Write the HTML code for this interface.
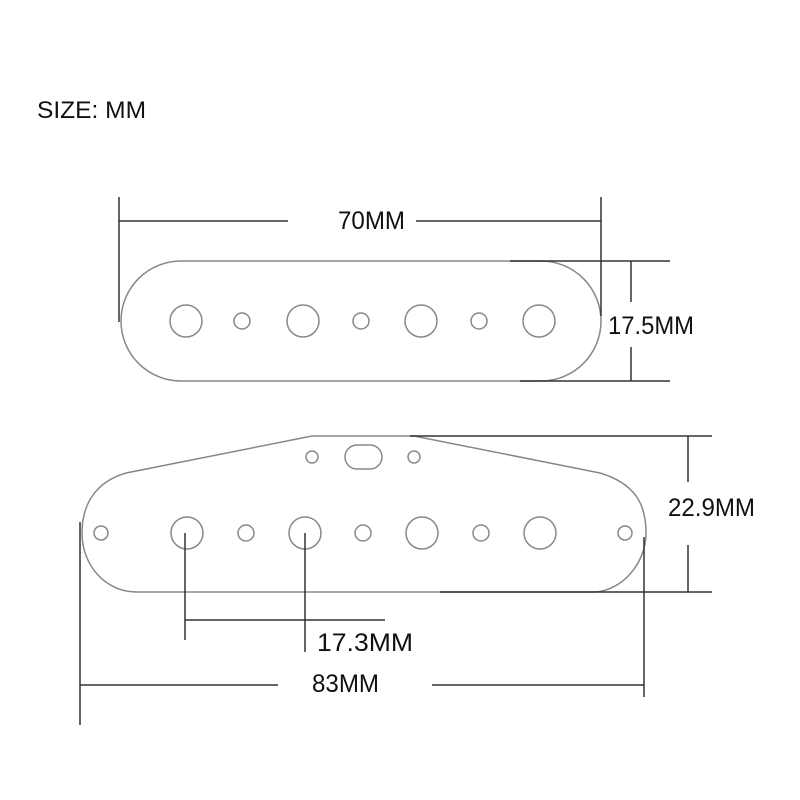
<!DOCTYPE html>
<html><head><style>
html,body{margin:0;padding:0;background:#fff;}
svg{display:block;}
text{font-family:"Liberation Sans",sans-serif;fill:#111;}
</style></head><body>
<svg width="800" height="800" viewBox="0 0 800 800" xmlns="http://www.w3.org/2000/svg">
<rect width="800" height="800" fill="#fff"/>
<text x="37" y="118" font-size="24" textLength="109" lengthAdjust="spacingAndGlyphs">SIZE: MM</text>

<!-- top pickup -->
<g fill="none" stroke="#888" stroke-width="1.5">
<rect x="121" y="261" width="480" height="120" rx="60" ry="60"/>
<circle cx="186" cy="321" r="16"/><circle cx="303" cy="321" r="16"/><circle cx="421" cy="321" r="16"/><circle cx="539" cy="321" r="16"/>
<circle cx="242" cy="321" r="8"/><circle cx="361" cy="321" r="8"/><circle cx="479" cy="321" r="8"/>
</g>
<g stroke="#333" stroke-width="1.5" fill="none">
<line x1="119" y1="197" x2="119" y2="322"/>
<line x1="601" y1="197" x2="601" y2="316"/>
<line x1="119" y1="221" x2="288" y2="221"/>
<line x1="416" y1="221" x2="601" y2="221"/>
<line x1="510" y1="261" x2="670" y2="261"/>
<line x1="520" y1="381" x2="670" y2="381"/>
<line x1="631" y1="261" x2="631" y2="302"/>
<line x1="631" y1="347" x2="631" y2="381"/>
</g>
<text x="338" y="229" font-size="25" textLength="67" lengthAdjust="spacingAndGlyphs">70MM</text>
<text x="608" y="334" font-size="25" textLength="86" lengthAdjust="spacingAndGlyphs">17.5MM</text>

<!-- bottom pickup -->
<g fill="none" stroke="#888" stroke-width="1.5">
<path d="M312,436 L414,436 L600,473 C640,485 646,510 646,533 C646,565 620,592 593,592 L137,592 C105,592 82,565 82,533 C82,505 95,482 126,473 Z"/>
<circle cx="101" cy="533" r="7"/><circle cx="625" cy="533" r="7"/>
<circle cx="187" cy="533" r="16"/><circle cx="305" cy="533" r="16"/><circle cx="422" cy="533" r="16"/><circle cx="540" cy="533" r="16"/>
<circle cx="246" cy="533" r="8"/><circle cx="363" cy="533" r="8"/><circle cx="481" cy="533" r="8"/>
<circle cx="312" cy="457" r="6"/><circle cx="414" cy="457" r="6"/>
<rect x="345" y="445" width="37" height="24" rx="12" ry="12"/>
</g>
<g stroke="#333" stroke-width="1.5" fill="none">
<line x1="410" y1="436" x2="712" y2="436"/>
<line x1="440" y1="592" x2="712" y2="592"/>
<line x1="688" y1="436" x2="688" y2="482"/>
<line x1="688" y1="545" x2="688" y2="592"/>
<line x1="185" y1="533" x2="185" y2="640"/>
<line x1="305" y1="533" x2="305" y2="652"/>
<line x1="185" y1="620" x2="385" y2="620"/>
<line x1="80" y1="522" x2="80" y2="725"/>
<line x1="644" y1="537" x2="644" y2="697"/>
<line x1="80" y1="685" x2="278" y2="685"/>
<line x1="432" y1="685" x2="644" y2="685"/>
</g>
<text x="668" y="516" font-size="25" textLength="87" lengthAdjust="spacingAndGlyphs">22.9MM</text>
<text x="317" y="651" font-size="25" textLength="96" lengthAdjust="spacingAndGlyphs">17.3MM</text>
<text x="312" y="692" font-size="25" textLength="67" lengthAdjust="spacingAndGlyphs">83MM</text>
</svg>
</body></html>
